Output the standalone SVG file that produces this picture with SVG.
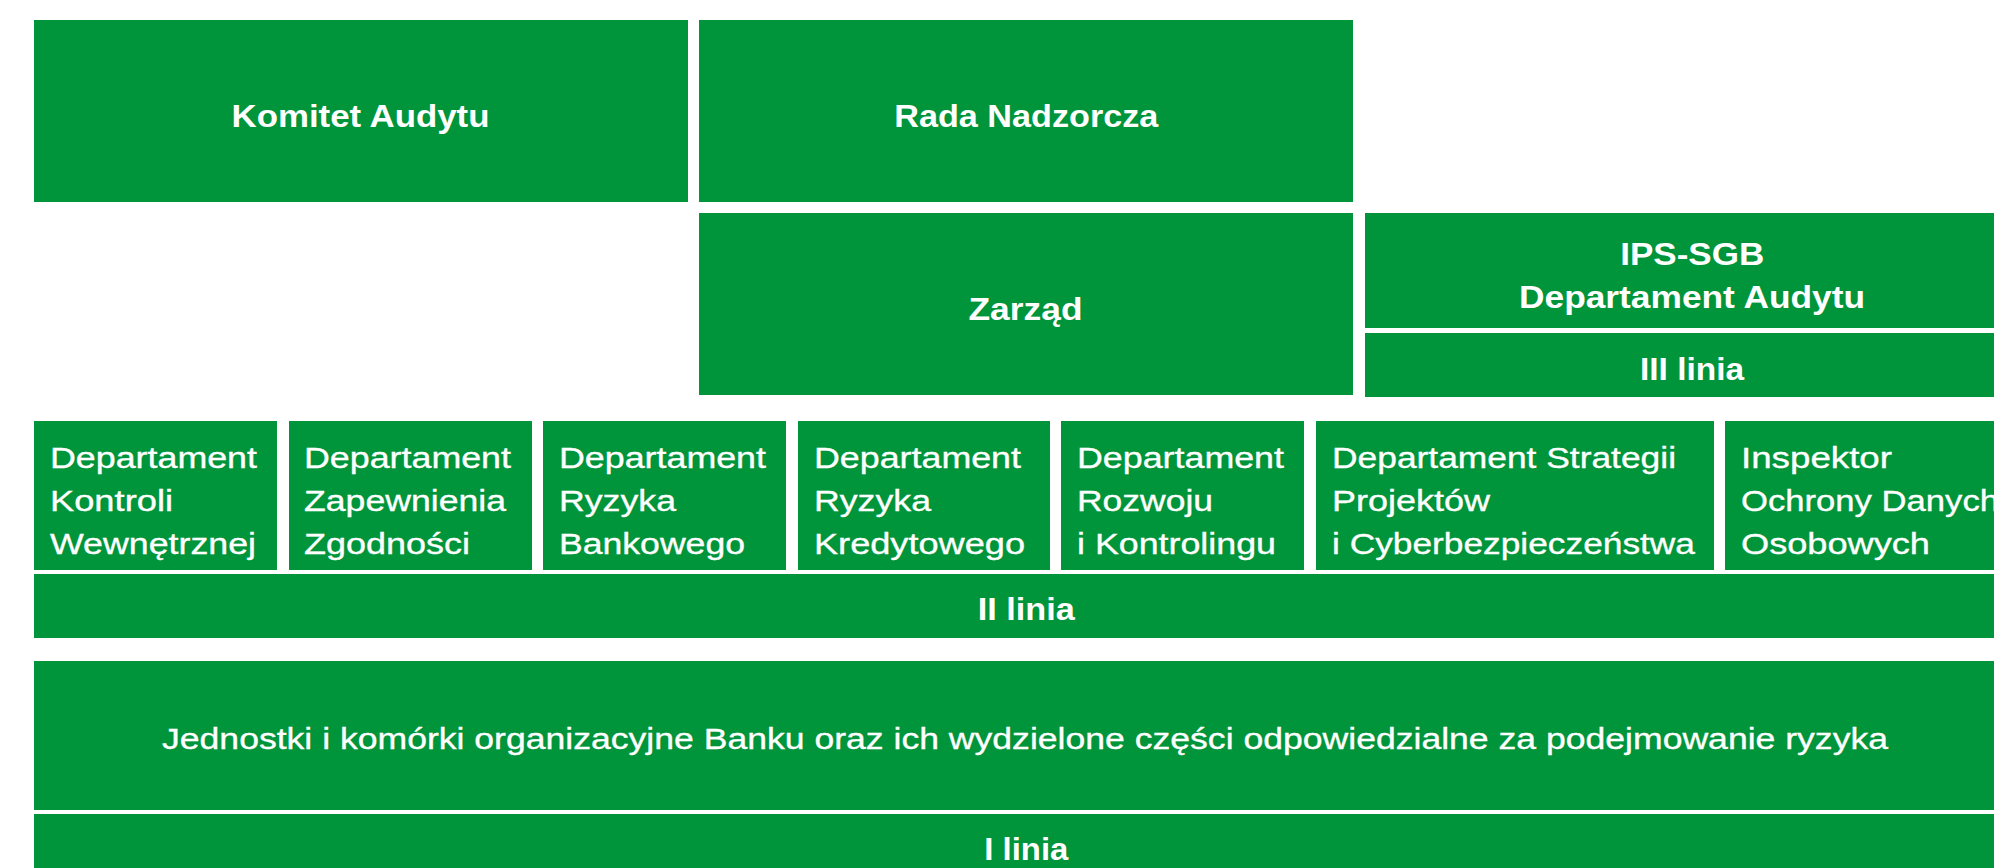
<svg xmlns="http://www.w3.org/2000/svg" width="1994" height="868" viewBox="0 0 1994 868">
<style>
.box{fill:#00953a}
.b{font-family:"Liberation Sans",Arial,sans-serif;font-weight:bold;font-size:31px;fill:#ffffff}
.r{font-family:"Liberation Sans",Arial,sans-serif;font-size:30px;fill:#ffffff;stroke:#ffffff;stroke-width:0.35px}
</style>
<rect width="1994" height="868" fill="#ffffff"/>
<g id="komitet-audytu">
<rect class="box" x="34" y="20" width="654" height="182"/>
<text class="b" x="231.5" y="127" textLength="258" lengthAdjust="spacingAndGlyphs">Komitet Audytu</text>
</g>
<g id="rada-nadzorcza">
<rect class="box" x="699" y="20" width="654" height="182"/>
<text class="b" x="894.3" y="127" textLength="264" lengthAdjust="spacingAndGlyphs">Rada Nadzorcza</text>
</g>
<g id="zarzad">
<rect class="box" x="699" y="213" width="654" height="182"/>
<text class="b" x="968.5" y="320" textLength="114" lengthAdjust="spacingAndGlyphs">Zarząd</text>
</g>
<g id="ips-sgb">
<rect class="box" x="1365" y="213" width="654" height="115"/>
<text class="b" x="1620.2" y="265" textLength="144" lengthAdjust="spacingAndGlyphs">IPS-SGB</text>
<text class="b" x="1519" y="308" textLength="346" lengthAdjust="spacingAndGlyphs">Departament Audytu</text>
</g>
<g id="iii-linia">
<rect class="box" x="1365" y="333" width="654" height="64"/>
<text class="b" x="1640" y="380" textLength="104" lengthAdjust="spacingAndGlyphs">III linia</text>
</g>
<g id="dep-kontroli">
<rect class="box" x="34" y="421" width="243" height="149"/>
<text class="r" x="50" y="468" textLength="207" lengthAdjust="spacingAndGlyphs">Departament</text>
<text class="r" x="50" y="511" textLength="123" lengthAdjust="spacingAndGlyphs">Kontroli</text>
<text class="r" x="50" y="554" textLength="206" lengthAdjust="spacingAndGlyphs">Wewnętrznej</text>
</g>
<g id="dep-zgodnosci">
<rect class="box" x="289" y="421" width="243" height="149"/>
<text class="r" x="304" y="468" textLength="207" lengthAdjust="spacingAndGlyphs">Departament</text>
<text class="r" x="304" y="511" textLength="202" lengthAdjust="spacingAndGlyphs">Zapewnienia</text>
<text class="r" x="304" y="554" textLength="166" lengthAdjust="spacingAndGlyphs">Zgodności</text>
</g>
<g id="dep-ryzyka-bankowego">
<rect class="box" x="543" y="421" width="243" height="149"/>
<text class="r" x="559" y="468" textLength="207" lengthAdjust="spacingAndGlyphs">Departament</text>
<text class="r" x="559" y="511" textLength="117" lengthAdjust="spacingAndGlyphs">Ryzyka</text>
<text class="r" x="559" y="554" textLength="186" lengthAdjust="spacingAndGlyphs">Bankowego</text>
</g>
<g id="dep-ryzyka-kredytowego">
<rect class="box" x="798" y="421" width="252" height="149"/>
<text class="r" x="814" y="468" textLength="207" lengthAdjust="spacingAndGlyphs">Departament</text>
<text class="r" x="814" y="511" textLength="117" lengthAdjust="spacingAndGlyphs">Ryzyka</text>
<text class="r" x="814" y="554" textLength="211" lengthAdjust="spacingAndGlyphs">Kredytowego</text>
</g>
<g id="dep-rozwoju">
<rect class="box" x="1061" y="421" width="243" height="149"/>
<text class="r" x="1077" y="468" textLength="207" lengthAdjust="spacingAndGlyphs">Departament</text>
<text class="r" x="1077" y="511" textLength="136" lengthAdjust="spacingAndGlyphs">Rozwoju</text>
<text class="r" x="1077" y="554" textLength="199" lengthAdjust="spacingAndGlyphs">i Kontrolingu</text>
</g>
<g id="dep-strategii">
<rect class="box" x="1316" y="421" width="398" height="149"/>
<text class="r" x="1332" y="468" textLength="344" lengthAdjust="spacingAndGlyphs">Departament Strategii</text>
<text class="r" x="1332" y="511" textLength="158" lengthAdjust="spacingAndGlyphs">Projektów</text>
<text class="r" x="1332" y="554" textLength="363" lengthAdjust="spacingAndGlyphs">i Cyberbezpieczeństwa</text>
</g>
<g id="inspektor">
<rect class="box" x="1725" y="421" width="294" height="149"/>
<text class="r" x="1741" y="468" textLength="151" lengthAdjust="spacingAndGlyphs">Inspektor</text>
<text class="r" x="1741" y="511" textLength="258" lengthAdjust="spacingAndGlyphs">Ochrony Danych</text>
<text class="r" x="1741" y="554" textLength="189" lengthAdjust="spacingAndGlyphs">Osobowych</text>
</g>
<g id="ii-linia">
<rect class="box" x="34" y="574" width="1985" height="64"/>
<text class="b" x="977.8" y="620" textLength="97" lengthAdjust="spacingAndGlyphs">II linia</text>
</g>
<g id="jednostki">
<rect class="box" x="34" y="661" width="1985" height="149"/>
<text class="r" x="162" y="749" textLength="1726" lengthAdjust="spacingAndGlyphs">Jednostki i komórki organizacyjne Banku oraz ich wydzielone części odpowiedzialne za podejmowanie ryzyka</text>
</g>
<g id="i-linia">
<rect class="box" x="34" y="814" width="1985" height="60"/>
<text class="b" x="984.3" y="860" textLength="84" lengthAdjust="spacingAndGlyphs">I linia</text>
</g>
</svg>
